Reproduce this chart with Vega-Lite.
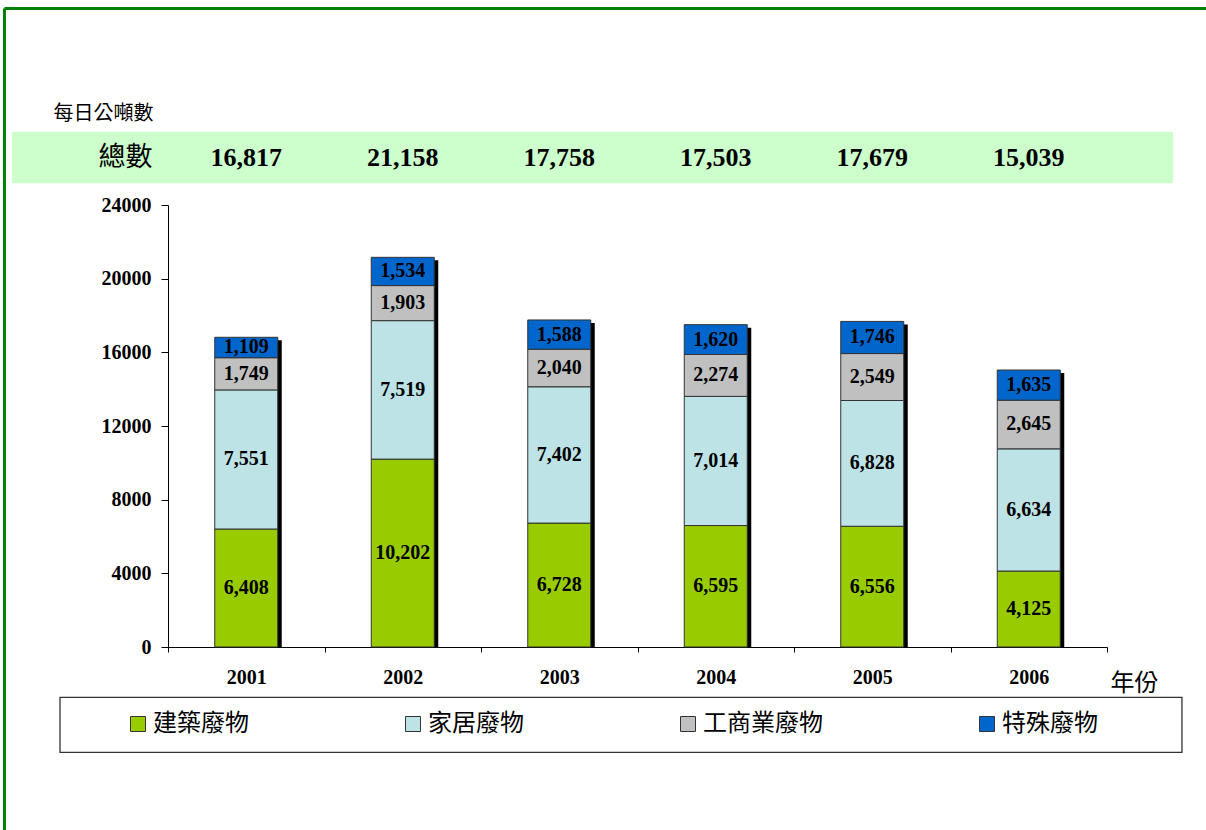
{
  "$schema": "https://vega.github.io/schema/vega-lite/v6.json",
  "autosize": {"type": "none"},
  "padding": {"left": 168, "top": 205, "right": 99, "bottom": 183},
  "width": 939,
  "height": 442,
  "background": "white",
  "config": {"view": {"stroke": null}},
  "datasets": {
    "waste": [
      {"year": "2001", "type": "建築廢物", "seq": 1, "value": 6408},
      {"year": "2001", "type": "家居廢物", "seq": 2, "value": 7551},
      {"year": "2001", "type": "工商業廢物", "seq": 3, "value": 1749},
      {"year": "2001", "type": "特殊廢物", "seq": 4, "value": 1109},
      {"year": "2002", "type": "建築廢物", "seq": 1, "value": 10202},
      {"year": "2002", "type": "家居廢物", "seq": 2, "value": 7519},
      {"year": "2002", "type": "工商業廢物", "seq": 3, "value": 1903},
      {"year": "2002", "type": "特殊廢物", "seq": 4, "value": 1534},
      {"year": "2003", "type": "建築廢物", "seq": 1, "value": 6728},
      {"year": "2003", "type": "家居廢物", "seq": 2, "value": 7402},
      {"year": "2003", "type": "工商業廢物", "seq": 3, "value": 2040},
      {"year": "2003", "type": "特殊廢物", "seq": 4, "value": 1588},
      {"year": "2004", "type": "建築廢物", "seq": 1, "value": 6595},
      {"year": "2004", "type": "家居廢物", "seq": 2, "value": 7014},
      {"year": "2004", "type": "工商業廢物", "seq": 3, "value": 2274},
      {"year": "2004", "type": "特殊廢物", "seq": 4, "value": 1620},
      {"year": "2005", "type": "建築廢物", "seq": 1, "value": 6556},
      {"year": "2005", "type": "家居廢物", "seq": 2, "value": 6828},
      {"year": "2005", "type": "工商業廢物", "seq": 3, "value": 2549},
      {"year": "2005", "type": "特殊廢物", "seq": 4, "value": 1746},
      {"year": "2006", "type": "建築廢物", "seq": 1, "value": 4125},
      {"year": "2006", "type": "家居廢物", "seq": 2, "value": 6634},
      {"year": "2006", "type": "工商業廢物", "seq": 3, "value": 2645},
      {"year": "2006", "type": "特殊廢物", "seq": 4, "value": 1635}
    ],
    "one": [{}]
  },
  "layer": [
    {
      "data": {"name": "one"},
      "layer": [
        {
          "mark": {"type": "rect", "fill": "#CCFFCC"},
          "encoding": {
            "x": {"datum": -0.997, "type": "quantitative", "scale": {"domain": [0, 6], "nice": false, "zero": false}, "axis": null},
            "x2": {"datum": 6.422},
            "y": {"datum": 27980, "type": "quantitative"},
            "y2": {"datum": 25178}
          }
        },
        {
          "mark": {"type": "rect", "fill": null, "fillOpacity": 0, "stroke": "#333333", "strokeWidth": 1.3},
          "encoding": {
            "x": {"datum": -0.69, "type": "quantitative"},
            "x2": {"datum": 6.479},
            "y": {"datum": -2731, "type": "quantitative"},
            "y2": {"datum": -5718}
          }
        },
        {
          "mark": {"type": "rule", "stroke": "#008000", "strokeWidth": 3},
          "encoding": {
            "x": {"datum": -1.045, "type": "quantitative"},
            "x2": {"datum": 6.7},
            "y": {"datum": 34670, "type": "quantitative"}
          }
        },
        {
          "mark": {"type": "rule", "stroke": "#008000", "strokeWidth": 3},
          "encoding": {
            "x": {"datum": -1.045, "type": "quantitative"},
            "y": {"datum": 34670, "type": "quantitative"},
            "y2": {"datum": -10500}
          }
        },
        {
          "mark": {"type": "text", "font": "Noto Sans CJK TC", "fontSize": 27, "color": "black", "align": "center", "baseline": "middle"},
          "encoding": {
            "x": {"datum": -0.272, "type": "quantitative"},
            "y": {"datum": 26579, "type": "quantitative"},
            "text": {"value": "總數"}
          }
        }
      ]
    },
    {
      "data": {"name": "waste"},
      "encoding": {
        "x": {
          "field": "year",
          "type": "nominal",
          "sort": ["2001", "2002", "2003", "2004", "2005", "2006"],
          "scale": {"paddingInner": 0, "paddingOuter": 0},
          "axis": {
            "orient": "bottom",
            "labelAngle": 0,
            "labelFont": "Liberation Serif",
            "labelFontWeight": "bold",
            "labelFontSize": 20,
            "labelColor": "black",
            "labelBaseline": "middle",
            "labelPadding": 25,
            "tickBand": "extent",
            "tickSize": 5,
            "tickColor": "black",
            "domainColor": "black",
            "domainWidth": 1,
            "title": "年份",
            "titleFont": "Noto Sans CJK TC",
            "titleFontSize": 24,
            "titleFontWeight": "normal",
            "titleColor": "black",
            "titleAnchor": null,
            "titleAlign": "left",
            "titleBaseline": "middle",
            "titleX": 942,
            "titleY": 36
          }
        }
      },
      "layer": [
        {
          "mark": {"type": "bar", "size": 63, "color": "black", "xOffset": 4, "yOffset": 3, "y2Offset": 0},
          "encoding": {
            "y": {"aggregate": "sum", "field": "value", "type": "quantitative", "stack": null}
          }
        },
        {
          "mark": {"type": "bar", "size": 63, "stroke": "#333333", "strokeWidth": 1},
          "encoding": {
            "y": {
              "field": "value",
              "type": "quantitative",
              "stack": "zero",
              "scale": {"domain": [0, 24000], "nice": false, "zero": true},
              "axis": {
                "values": [0, 4000, 8000, 12000, 16000, 20000, 24000],
                "format": "d",
                "grid": false,
                "labelFont": "Liberation Serif",
                "labelFontWeight": "bold",
                "labelFontSize": 20,
                "labelColor": "black",
                "labelPadding": 10,
                "tickSize": 7,
                "tickColor": "black",
                "domainColor": "black",
                "domainWidth": 1,
                "title": "每日公噸數",
                "titleFont": "Noto Sans CJK TC",
                "titleFontSize": 20,
                "titleFontWeight": "normal",
                "titleColor": "black",
                "titleAngle": 0,
                "titleAnchor": null,
                "titleAlign": "left",
                "titleBaseline": "middle",
                "titleX": -115,
                "titleY": -92
              }
            },
            "order": {"field": "seq", "type": "quantitative", "sort": "ascending"},
            "color": {
              "field": "type",
              "type": "nominal",
              "sort": ["建築廢物", "家居廢物", "工商業廢物", "特殊廢物"],
              "scale": {
                "domain": ["建築廢物", "家居廢物", "工商業廢物", "特殊廢物"],
                "range": ["#99CC00", "#BDE3E6", "#C0C0C0", "#0066CC"]
              },
              "legend": {
                "title": null,
                "orient": "none",
                "direction": "horizontal",
                "legendX": -42,
                "legendY": 507,
                "padding": 0,
                "symbolType": "square",
                "symbolSize": 225,
                "symbolStrokeColor": "#333333",
                "symbolStrokeWidth": 1,
                "labelFont": "Noto Sans CJK TC",
                "labelFontSize": 24,
                "labelColor": "black",
                "labelOffset": 3,
                "labelLimit": 300,
                "columnPadding": 152
              }
            }
          }
        },
        {
          "mark": {"type": "text", "font": "Liberation Serif", "fontWeight": "bold", "fontSize": 20, "fill": "black", "baseline": "middle"},
          "encoding": {
            "y": {"field": "value", "type": "quantitative", "stack": "zero", "bandPosition": 0.5},
            "order": {"field": "seq", "type": "quantitative", "sort": "ascending"},
            "detail": {"field": "type", "type": "nominal"},
            "text": {"field": "value", "type": "quantitative", "format": ","}
          }
        },
        {
          "mark": {"type": "text", "font": "Liberation Serif", "fontWeight": "bold", "fontSize": 26, "color": "black", "baseline": "middle"},
          "encoding": {
            "y": {"datum": 26579, "type": "quantitative"},
            "text": {"aggregate": "sum", "field": "value", "type": "quantitative", "format": ","}
          }
        }
      ]
    }
  ],
  "resolve": {"scale": {"x": "independent"}}
}
